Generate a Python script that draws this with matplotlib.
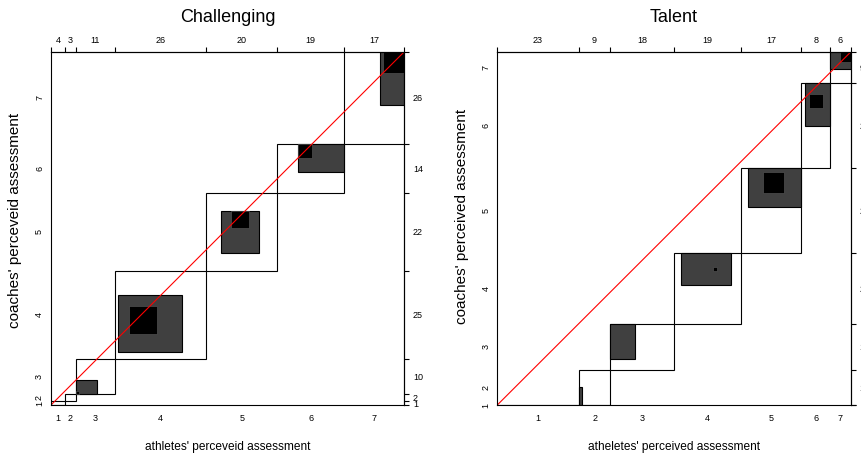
"""Bangdiwala agreement charts: athletes' vs coaches' assessments."""
import numpy as np
import matplotlib.pyplot as plt
from matplotlib.patches import Rectangle

plt.rcParams["font.family"] = ["Liberation Sans", "DejaVu Sans"]

categories = ["1", "2", "3", "4", "5", "6", "7"]

# Challenging: column totals (athletes) and row totals (coaches)
chal_cols = [4, 3, 11, 26, 20, 19, 17]
chal_rows = [1, 2, 10, 25, 22, 14, 26]
# exact agreement n_ii and its offset inside each box
chal_diag = [0, 0, 1, 8, 5, 4, 6]
chal_diag_dx = [0, 0, 0, 4, 7, 6, 11]
chal_diag_dy = [0, 0, 0, 7, 12, 10, 20]
# partial agreement (one category off the diagonal)
chal_part_w = [0, 0, 6, 18, 11, 13, 7]
chal_part_h = [0, 0, 4, 16, 12, 8, 15]
chal_part_dx = [0, 0, 0, 1, 4, 6, 10]
chal_part_dy = [0, 0, 0, 2, 5, 6, 11]

# Talent
tal_cols = [23, 9, 18, 19, 17, 8, 6]
tal_rows = [0, 10, 13, 20, 24, 24, 9]
tal_diag = [0, 0, 0, 1, 6, 4, 3]
tal_diag_dx = [0, 0, 0, 11, 6, 2, 3]
tal_diag_dy = [0, 0, 0, 15, 17, 17, 6]
tal_part_w = [0, 1, 7, 14, 15, 7, 6]
tal_part_h = [0, 5, 10, 9, 11, 12, 5]
tal_part_dx = [0, 0, 0, 2, 2, 1, 0]
tal_part_dy = [0, 0, 3, 11, 13, 12, 4]


def agreement_chart(ax, cols, rows, diag, diag_dx, diag_dy,
                    part_w, part_h, part_dx, part_dy):
    """Draw one agreement chart onto ax."""
    x0 = np.concatenate([[0], np.cumsum(cols)])
    y0 = np.concatenate([[0], np.cumsum(rows)])

    for i in range(len(cols)):
        ax.add_patch(Rectangle((x0[i], y0[i]), cols[i], rows[i],
                               facecolor="white", edgecolor="black", lw=0.8))
        if part_w[i] and part_h[i]:
            ax.add_patch(Rectangle((x0[i] + part_dx[i], y0[i] + part_dy[i]),
                                   part_w[i], part_h[i], facecolor="#404040",
                                   edgecolor="black", lw=0.8))
        if diag[i]:
            ax.add_patch(Rectangle((x0[i] + diag_dx[i], y0[i] + diag_dy[i]),
                                   diag[i], diag[i], facecolor="black",
                                   edgecolor="#505050", lw=0.5))

    ax.plot([0, x0[-1]], [0, y0[-1]], color="red", lw=0.8)
    ax.set_xlim(0, x0[-1])
    ax.set_ylim(0, y0[-1])
    for sp in ax.spines.values():
        sp.set_linewidth(0.8)

    mid_x = x0[:-1] + np.array(cols) / 2
    mid_y = y0[:-1] + np.array(rows) / 2
    ax.set_xticks(mid_x, labels=categories)
    ax.set_yticks(mid_y, labels=categories, rotation=90, va="center")
    ax.tick_params(length=0, labelsize=6.5)
    ax.tick_params(axis="x", pad=6.5)
    ax.tick_params(axis="y", pad=5)

    top = ax.secondary_xaxis("top")
    top.set_ticks(x0, labels=[""] * len(x0))
    top.set_ticks(mid_x, labels=[str(c) for c in cols], minor=True)
    top.tick_params(which="major", length=3.5, width=0.8, direction="out")
    top.tick_params(which="minor", length=0, pad=4.8, labelsize=6.5)
    top.spines["top"].set_linewidth(0.8)

    right = ax.secondary_yaxis("right")
    right.set_ticks(y0, labels=[""] * len(y0))
    right.set_ticks(mid_y, labels=[str(r) for r in rows], minor=True)
    right.tick_params(which="major", length=3.5, width=0.8, direction="out")
    right.tick_params(which="minor", length=0, pad=6.3, labelsize=6.5)
    right.spines["right"].set_linewidth(0.8)


def main():
    fig = plt.figure(figsize=(8.62, 4.59), dpi=100)
    W, H = 862, 459

    ax1 = fig.add_axes([51 / W, (H - 405) / H, 353.3 / W, 353.3 / H])
    ax2 = fig.add_axes([497.3 / W, (H - 405) / H, 353.7 / W, 353.3 / H])

    agreement_chart(ax1, chal_cols, chal_rows, chal_diag, chal_diag_dx,
                    chal_diag_dy, chal_part_w, chal_part_h, chal_part_dx,
                    chal_part_dy)
    agreement_chart(ax2, tal_cols, tal_rows, tal_diag, tal_diag_dx,
                    tal_diag_dy, tal_part_w, tal_part_h, tal_part_dx,
                    tal_part_dy)

    fig.text(228 / W, 1 - 18 / H, "Challenging", ha="center", va="center",
             fontsize=13)
    fig.text(674 / W, 1 - 18 / H, "Talent", ha="center", va="center",
             fontsize=13)
    fig.text(228 / W, 1 - 447 / H, "athletes' perceveid assessment",
             ha="center", va="center", fontsize=8.6)
    fig.text(674 / W, 1 - 447 / H, "atheletes' perceived assessment",
             ha="center", va="center", fontsize=8.6)
    fig.text(15 / W, 1 - 220 / H, "coaches' perceveid assessment",
             ha="center", va="center", rotation=90, fontsize=11)
    fig.text(462 / W, 1 - 216 / H, "coaches' perceived assessment",
             ha="center", va="center", rotation=90, fontsize=11)

    fig.savefig("out.png", dpi=100)


if __name__ == "__main__":
    main()
